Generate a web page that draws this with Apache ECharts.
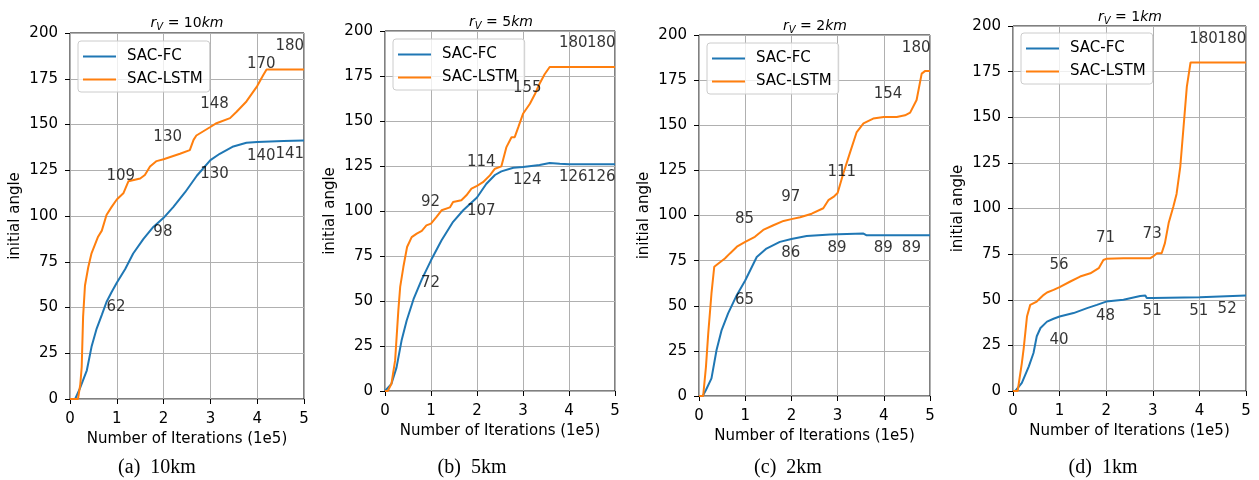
<!DOCTYPE html>
<html>
<head>
<meta charset="utf-8">
<script src="https://cdn.jsdelivr.net/npm/echarts@6/dist/echarts.min.js"></script>
<style>
  html, body { margin: 0; padding: 0; background: #fff; }
  #chart { width: 1259px; height: 480px; }
</style>
</head>
<body>
<div id="chart"></div>
<script>
// curves: [iterations (1e5), initial angle]
const fc10 = [[0,0],[0.11,0],[0.21,5.7],[0.36,15.7],[0.46,28.5],[0.57,38.5],[0.68,46],[0.78,53],[0.89,58.5],[1.0,63.5],[1.18,71],[1.35,79.5],[1.57,87.5],[1.78,94],[2.0,99],[2.21,105],[2.46,113],[2.71,122],[3.0,130.5],[3.2,134],[3.49,138],[3.77,140],[4.0,140.5],[4.56,141],[5,141.2]];
const lstm10 = [[0,0],[0.17,0],[0.22,8],[0.25,17.5],[0.28,45],[0.32,62],[0.39,72],[0.46,79.6],[0.6,88.7],[0.68,92],[0.78,100.5],[0.89,105],[1.0,109],[1.14,112.4],[1.25,119],[1.5,120.5],[1.6,122.4],[1.71,127],[1.85,130],[2.0,131],[2.35,134],[2.56,136],[2.64,141.6],[2.7,144],[2.99,148.5],[3.13,150.7],[3.42,153.5],[3.56,157],[3.77,162.6],[4.0,171],[4.13,177],[4.2,180],[5,180]];
const fc5 = [[0,0],[0.04,0],[0.14,4],[0.25,13],[0.36,28],[0.47,39],[0.62,51],[0.8,62],[1.0,72.6],[1.23,83.7],[1.48,94],[1.7,100.4],[2.0,107.5],[2.2,115],[2.39,120],[2.53,122],[2.79,124],[3.0,124.4],[3.36,125.5],[3.58,126.7],[3.8,126.3],[4,126],[5,126]];
const lstm5 = [[0,0],[0.06,0],[0.14,4],[0.22,17],[0.29,44.8],[0.33,57.8],[0.4,69],[0.48,80],[0.58,85.5],[0.69,87.4],[0.8,89],[0.9,92],[1.0,93],[1.12,96.7],[1.23,100.4],[1.41,102],[1.48,105],[1.66,106],[1.77,108.7],[1.88,112.4],[2.0,114],[2.13,116],[2.28,119.8],[2.39,123.5],[2.53,124.8],[2.64,135.5],[2.75,141],[2.82,141],[2.9,146.7],[3.0,154],[3.15,159.6],[3.26,165],[3.36,170.7],[3.47,176],[3.58,180],[5,180]];
const fc2 = [[0,0],[0.08,0],[0.15,3.3],[0.27,9.8],[0.38,25.5],[0.49,36.5],[0.63,45.8],[0.82,56],[1.0,64],[1.25,77],[1.46,81.7],[1.75,85.4],[2.0,87],[2.33,88.6],[2.84,89.5],[3.56,90],[3.63,89],[5,89]];
const lstm2 = [[0,0],[0.09,0],[0.15,16],[0.2,34.7],[0.27,56.8],[0.33,71.6],[0.42,73.4],[0.56,76.2],[0.67,79],[0.82,82.7],[1.0,85.4],[1.21,88.2],[1.39,92],[1.61,94.6],[1.83,97],[2.0,98],[2.19,99],[2.44,101],[2.69,104],[2.8,108.5],[2.91,110.3],[3.0,112.5],[3.12,123],[3.27,135],[3.41,146],[3.56,151],[3.77,153.7],[4.0,154.6],[4.28,154.6],[4.46,155.5],[4.57,157],[4.71,164],[4.82,178.6],[4.89,180],[5,180]];
const fc1 = [[0,0],[0.05,0],[0.19,4.4],[0.34,13.5],[0.44,20.8],[0.51,30],[0.59,34.5],[0.73,38],[0.87,39.6],[1.0,40.8],[1.3,42.7],[1.59,45.4],[1.8,47.2],[2.0,49],[2.37,50],[2.73,52],[2.84,52.3],[2.87,51],[3.0,51],[4.01,51.4],[5,52.3]];
const lstm1 = [[0,0],[0.1,0],[0.19,15.3],[0.23,23.5],[0.27,23.5],[0.3,40.8],[0.37,47.2],[0.51,49],[0.66,52.7],[0.73,54],[0.87,55.4],[1.0,56.9],[1.23,60],[1.44,62.7],[1.66,64.5],[1.84,67.3],[1.94,71.8],[2.0,72.4],[2.37,72.7],[2.94,72.7],[3.0,73.6],[3.09,75.5],[3.19,75.5],[3.26,81],[3.34,92],[3.44,101],[3.51,108],[3.59,123],[3.66,144.8],[3.73,166.6],[3.81,180],[5,180]];

// annotated values at 1..5 (1e5)
const fcMarks10 = [62, 98, 130, 140, 141];
const lstmMarks10 = [109, 130, 148, 170, 180];
const fcMarks5 = [72, 107, 124, 126, 126];
const lstmMarks5 = [92, 114, 155, 180, 180];
const fcMarks2 = [65, 86, 89, 89, 89];
const lstmMarks2 = [85, 97, 111, 154, 180];
const fcMarks1 = [40, 48, 51, 51, 52];
const lstmMarks1 = [56, 71, 73, 180, 180];

const radii = ['10', '5', '2', '1'];
const captions = ['(a)  10km', '(b)  5km', '(c)  2km', '(d)  1km'];
const seriesNames = ['SAC-FC', 'SAC-LSTM'];

// where the annotation text starts (left edge) and how far it sits from the value
const markTextX = [0.77, 1.77, 2.77, 3.77, 4.38];
const fcTextDy = [-12, -7, -7, -7, -7];
const lstmTextDy = [13, 13, 13, 13, 13];

const BLUE = '#1f77b4';
const ORANGE = '#ff7f0e';
const FONT = 'DejaVu Sans';
// thin bar in the middle of a 33x14 box (the zero-length moves keep the box height)
const LINE_ICON = 'path://M0,0L0,0M0,6H33V8H0ZM0,14L0,14';

const panels = [
  { fc: fc10, lstm: lstm10, fcM: fcMarks10, lstmM: lstmMarks10,
    grid: { left: 70, top: 33, width: 234, height: 366 }, legend: { left: 78, top: 41 },
    titleX: 187, titleY: 15, capX: 157 },
  { fc: fc5, lstm: lstm5, fcM: fcMarks5, lstmM: lstmMarks5,
    grid: { left: 385, top: 31, width: 230, height: 360 }, legend: { left: 393, top: 39 },
    titleX: 501, titleY: 14, capX: 472 },
  { fc: fc2, lstm: lstm2, fcM: fcMarks2, lstmM: lstmMarks2,
    grid: { left: 699, top: 35, width: 231, height: 361 }, legend: { left: 707, top: 43 },
    titleX: 815, titleY: 18, capX: 788 },
  { fc: fc1, lstm: lstm1, fcM: fcMarks1, lstmM: lstmMarks1,
    grid: { left: 1013, top: 26, width: 233, height: 365 }, legend: { left: 1021, top: 33 },
    titleX: 1130, titleY: 9, capX: 1103 },
];

const chart = echarts.init(document.getElementById('chart'), null, { renderer: 'canvas' });

function markSeries(i, marks, dy) {
  return {
    name: 'marks',
    type: 'scatter',
    xAxisIndex: i,
    yAxisIndex: i,
    symbolSize: 1,
    silent: true,
    itemStyle: { color: 'rgba(0,0,0,0)' },
    data: marks.map((v, k) => [markTextX[k], v + dy[k], v]),
    label: {
      show: true,
      position: 'right',
      distance: 0,
      formatter: (p) => String(p.value[2]),
      color: '#000',
      fontSize: 15,
      fontFamily: FONT,
    },
    z: 5,
  };
}

const textBase = { color: '#000', fontSize: 15, fontFamily: FONT };

const option = {
  animation: false,
  backgroundColor: '#fff',
  title: [],
  grid: [],
  xAxis: [],
  yAxis: [],
  legend: [],
  series: [],
};

panels.forEach((p, i) => {
  option.grid.push({
    ...p.grid,
    show: true,
    borderColor: '#000',
    borderWidth: 1,
    backgroundColor: 'transparent',
  });
  option.xAxis.push({
    type: 'value',
    gridIndex: i,
    min: 0,
    max: 5,
    interval: 1,
    name: 'Number of Iterations (1e5)',
    nameLocation: 'middle',
    nameGap: 31,
    nameTextStyle: textBase,
    axisLine: { show: false },
    axisTick: { show: true, length: 5, lineStyle: { color: '#000' } },
    axisLabel: { ...textBase, margin: 13 },
    splitLine: { show: true, lineStyle: { color: '#b0b0b0', width: 1 } },
  });
  option.yAxis.push({
    type: 'value',
    gridIndex: i,
    min: 0,
    max: 200,
    interval: 25,
    name: 'initial angle',
    nameLocation: 'middle',
    nameGap: 47,
    nameTextStyle: textBase,
    axisLine: { show: false },
    axisTick: { show: true, length: 5, lineStyle: { color: '#000' } },
    axisLabel: { ...textBase, margin: 12 },
    splitLine: { show: true, lineStyle: { color: '#b0b0b0', width: 1 } },
  });
  option.legend.push({
    data: seriesNames,
    orient: 'vertical',
    left: p.legend.left,
    top: p.legend.top,
    icon: LINE_ICON,
    itemWidth: 33,
    itemHeight: 14,
    itemGap: 8,
    padding: [8, 7, 5, 5],
    borderColor: '#cccccc',
    borderWidth: 1,
    borderRadius: 3,
    backgroundColor: 'rgba(255,255,255,0.8)',
    textStyle: { ...textBase, padding: [0, 0, 0, 6] },
  });
  option.title.push({
    text: '{i|r}{s|V}{n| = ' + radii[i] + '}{i|km}',
    left: p.titleX,
    top: p.titleY,
    textAlign: 'center',
    padding: 0,
    textStyle: {
      rich: {
        i: { fontStyle: 'italic', fontWeight: 'normal', fontSize: 14, fontFamily: FONT, color: '#000' },
        n: { fontStyle: 'normal', fontWeight: 'normal', fontSize: 14, fontFamily: FONT, color: '#000' },
        s: { fontStyle: 'italic', fontWeight: 'normal', fontSize: 10, fontFamily: FONT, color: '#000', padding: [7, 0, 0, 0] },
      },
    },
  });
  option.title.push({
    text: captions[i],
    left: p.capX,
    top: 458,
    textAlign: 'center',
    padding: 0,
    textStyle: { fontFamily: 'Liberation Serif', fontSize: 20, fontWeight: 'normal', color: '#000' },
  });
  option.series.push({
    name: 'SAC-FC',
    type: 'line',
    xAxisIndex: i,
    yAxisIndex: i,
    data: p.fc,
    symbol: 'none',
    color: BLUE,
    lineStyle: { width: 2, color: BLUE },
    z: 3,
  });
  option.series.push({
    name: 'SAC-LSTM',
    type: 'line',
    xAxisIndex: i,
    yAxisIndex: i,
    data: p.lstm,
    symbol: 'none',
    color: ORANGE,
    lineStyle: { width: 2, color: ORANGE },
    z: 3,
  });
  option.series.push(markSeries(i, p.fcM, fcTextDy));
  option.series.push(markSeries(i, p.lstmM, lstmTextDy));
});

chart.setOption(option);
</script>
</body>
</html>
